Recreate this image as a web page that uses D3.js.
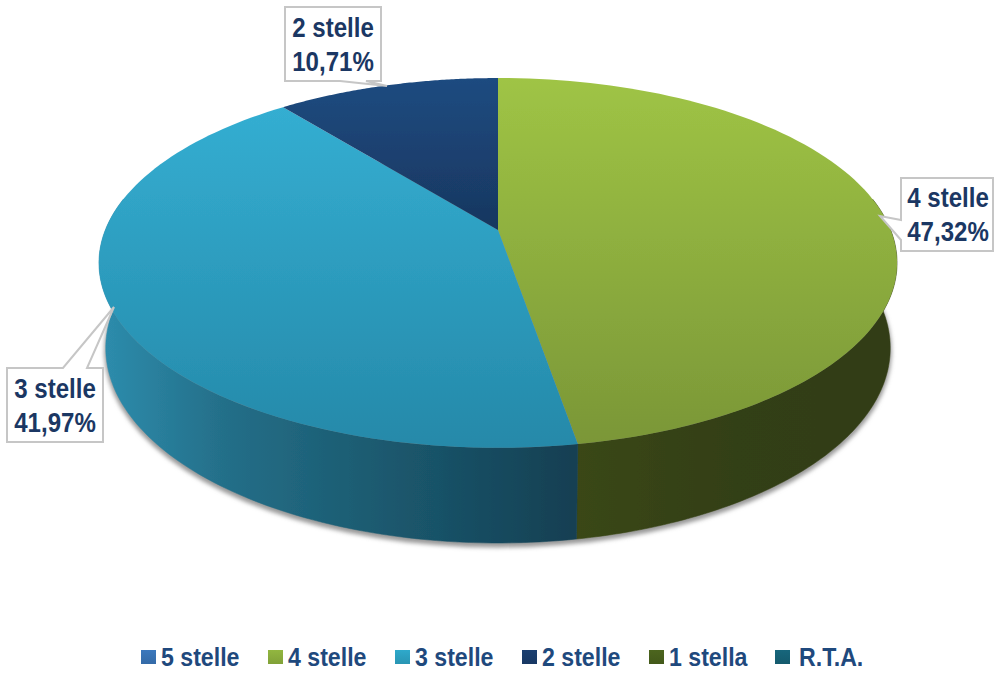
<!DOCTYPE html>
<html><head><meta charset="utf-8">
<script src="https://cdn.jsdelivr.net/npm/d3@7/dist/d3.min.js"></script>
<style>html,body{margin:0;padding:0;background:#fff;overflow:hidden}svg{display:block}</style>
</head><body><svg id="c" width="994" height="673"></svg>
<script>
const categories=["5 stelle","4 stelle","3 stelle","2 stelle","1 stella","R.T.A."];
const values=[0,47.32,41.97,10.71,0,0];
const labels=["0,00%","47,32%","41,97%","10,71%","0,00%","0,00%"];
const legendColors=["#3b78bd","#92b640","#2ea9cb","#1b3f70","#4c651e","#17667c"];
const topStops=[null,["#9fc445","#7a9637"],["#35b1d5","#2589a9"],["#1f4b80","#17365f"],null,null];
const sideStops=[null,["#3a4714","#333f14","#323d13"],["#2d8cac","#246f89","#1d5f75","#184f64","#133f52"],["#1a3a66","#14305a"],null,null];

const svg=d3.select("#c"),defs=svg.append("defs");
const top3d={cx:498,cy:230,a:392.7,b:179,k:-0.178};
const bot3d={cx:498,cy:313.3,a:386,b:188.8,k:-0.178};
const project=(p,ang)=>{const sx=Math.sin(ang),sy=-Math.cos(ang),d=1+p.k*sy;return [p.cx+p.a*sx/d,p.cy+p.b*sy/d];};
const arcs=d3.pie().sort(null).value(d=>d)(values);
const samples=(s,e)=>d3.range(0,97).map(i=>s+(e-s)*i/96);
const line=d3.line();
const font="Liberation Sans, Arial, sans-serif";
// the wall only shows on the near side of the rim, between the rim's widest points
const wallFrom=Math.acos(-top3d.k), wallTo=2*Math.PI-wallFrom;

const grad=(id,stops,x1,y1,x2,y2)=>{const g=defs.append("linearGradient").attr("id",id).attr("gradientUnits","userSpaceOnUse")
  .attr("x1",x1).attr("x2",x2).attr("y1",y1).attr("y2",y2);
  stops.forEach((c,i)=>g.append("stop").attr("offset",i/(stops.length-1)).attr("stop-color",c));};
const blur=defs.append("filter").attr("id","sh").attr("x","-10%").attr("y","-10%").attr("width","120%").attr("height","120%");
blur.append("feGaussianBlur").attr("stdDeviation",2.2);
const soft=defs.append("filter").attr("id","soft");
soft.append("feGaussianBlur").attr("stdDeviation",0.5);

grad("t1",topStops[1],0,78,0,448);grad("t2",topStops[2],0,78,0,448);grad("t3",topStops[3],0,78,0,232);
grad("s1",sideStops[1],577,0,895,0);grad("s2",sideStops[2],104,0,577,0);grad("s3",sideStops[3],284,0,498,0);

const all=samples(0,2*Math.PI);
svg.append("path").attr("d",line(all.map(a=>project(bot3d,a)))+"Z")
  .attr("transform","translate(0,3)").attr("fill","#999").attr("stroke","#999").attr("stroke-width",3).attr("filter","url(#sh)");

const pie=svg.append("g").attr("filter","url(#soft)");
arcs.forEach((d,i)=>{ if(!d.value) return;
  const s=Math.max(d.startAngle,wallFrom),e=Math.min(d.endAngle,wallTo);
  if(e<=s) return;
  const a=samples(s,e);
  const pts=a.map(x=>project(top3d,x)).concat(a.slice().reverse().map(x=>project(bot3d,x)));
  pie.append("path").attr("d",line(pts)+"Z").attr("fill",`url(#s${i})`).attr("stroke",`url(#s${i})`).attr("stroke-width",0.5);
});
const apex=[top3d.cx,top3d.cy];
arcs.forEach((d,i)=>{ if(!d.value) return;
  const a=samples(d.startAngle,d.endAngle);
  pie.append("path").attr("d",line([apex].concat(a.map(x=>project(top3d,x))))+"Z")
    .attr("fill",`url(#t${i})`);
});

const squeezed=(g,x,y,size,sx,anchor,fill,t)=>g.append("text")
  .attr("transform",`translate(${x},${y}) scale(${sx},1)`).attr("text-anchor",anchor)
  .attr("font-family",font).attr("font-weight","bold").attr("font-size",size).attr("fill",fill).text(t);

const callouts=[
 {i:3,pts:[[285,7],[381,7],[381,81],[366,81],[387,86],[340,81],[285,81]],tx:333,ty:[37,71]},
 {i:2,pts:[[7,368],[63,368],[114,307],[87,368],[103,368],[103,442],[7,442]],tx:55,ty:[398,432]},
 {i:1,pts:[[901,178],[993,178],[993,251],[901,251],[901,240],[880,216],[901,220]],tx:948,ty:[207,241]}
];
const cg=svg.append("g");
callouts.forEach(c=>{
  cg.append("path").attr("d",line(c.pts)+"Z").attr("fill","#fff").attr("stroke","#c6c6c6").attr("stroke-width",2);
  squeezed(cg,c.tx,c.ty[0],28,0.86,"middle","#1b3763",categories[c.i]);
  squeezed(cg,c.tx,c.ty[1],28,0.86,"middle","#1b3763",labels[c.i]);
});

const legendX=[141,268,395,522,649,775];
const lg=svg.append("g");
categories.forEach((c,i)=>{
  grad("l"+i,[legendColors[i],d3.color(legendColors[i]).darker(0.35).formatHex()],0,650,0,664);
  lg.append("rect").attr("x",legendX[i]).attr("y",650).attr("width",15).attr("height",14).attr("fill",`url(#l${i})`);
  squeezed(lg,legendX[i]+(i===5?24:20),666,26,0.89,"start","#1f497d",c);
});
</script></body></html>
